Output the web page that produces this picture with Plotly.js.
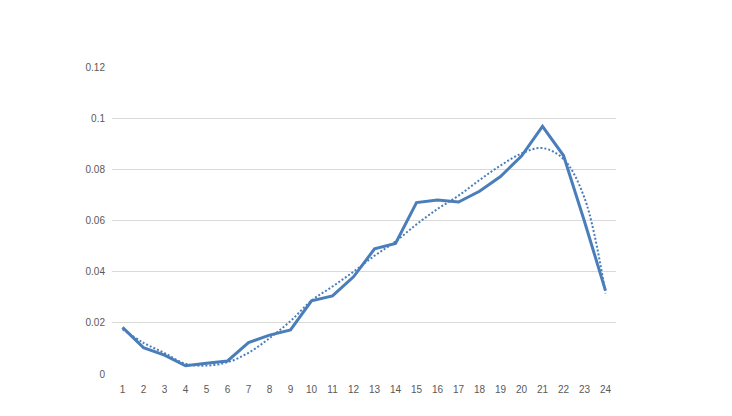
<!DOCTYPE html>
<html>
<head>
<meta charset="utf-8">
<script src="https://cdn.plot.ly/plotly-3.0.1.min.js"></script>
<style>html,body{margin:0;padding:0;background:#fff;}#chart{width:732px;height:416px;}</style>
</head>
<body>
<div id="chart"></div>
<script>
const categories = [1,2,3,4,5,6,7,8,9,10,11,12,13,14,15,16,17,18,19,20,21,22,23,24];
const seriesValues = [0.0182,0.0103,0.0074,0.0032,0.0042,0.0051,0.0123,0.0152,0.0172,0.0286,0.0305,0.0380,0.0489,0.0510,0.0670,0.0680,0.0672,0.0714,0.0772,0.0852,0.0968,0.0854,0.0596,0.0326];
const trendValues = [0.0175,0.0122,0.0082,0.0040,0.0033,0.0046,0.0083,0.0140,0.0207,0.0287,0.0342,0.0400,0.0462,0.0518,0.0585,0.0645,0.0697,0.0758,0.0815,0.0862,0.0883,0.0840,0.0688,0.0315];
const yTickVals = [0,0.02,0.04,0.06,0.08,0.1,0.12];
const yTickText = ["0","0.02","0.04","0.06","0.08","0.1","0.12"];

const blue = '#4a7ebb';
const data = [
  {x: categories, y: seriesValues, type: 'scatter', mode: 'lines',
   line: {color: blue, width: 3}, hoverinfo: 'skip'},
  {x: categories, y: trendValues, type: 'scatter', mode: 'lines',
   line: {color: blue, width: 2, dash: '2px,2px', shape: 'spline', smoothing: 1}, hoverinfo: 'skip'}
];
const layout = {
  width: 732, height: 416,
  margin: {l: 112, r: 116, t: 67, b: 42},
  paper_bgcolor: '#fff', plot_bgcolor: '#fff',
  showlegend: false,
  font: {family: 'Liberation Sans, Arial, sans-serif', size: 10, color: '#595959'},
  xaxis: {range: [0.5, 24.5], tickvals: categories, ticktext: categories.map(String),
          showgrid: false, zeroline: false, showline: false, ticks: '', fixedrange: true,
          ticklabelstandoff: 8,
          tickfont: {size: 10, color: '#595959'}},
  yaxis: {range: [0, 0.12], tickvals: yTickVals, ticktext: yTickText,
          showgrid: true, gridcolor: '#d9d9d9', gridwidth: 1, zeroline: false, showline: false,
          ticks: '', fixedrange: true, ticklabelstandoff: 6,
          tickfont: {size: 10, color: '#595959'}}
};
Plotly.newPlot('chart', data, layout, {displayModeBar: false, staticPlot: true});
</script>
</body>
</html>
